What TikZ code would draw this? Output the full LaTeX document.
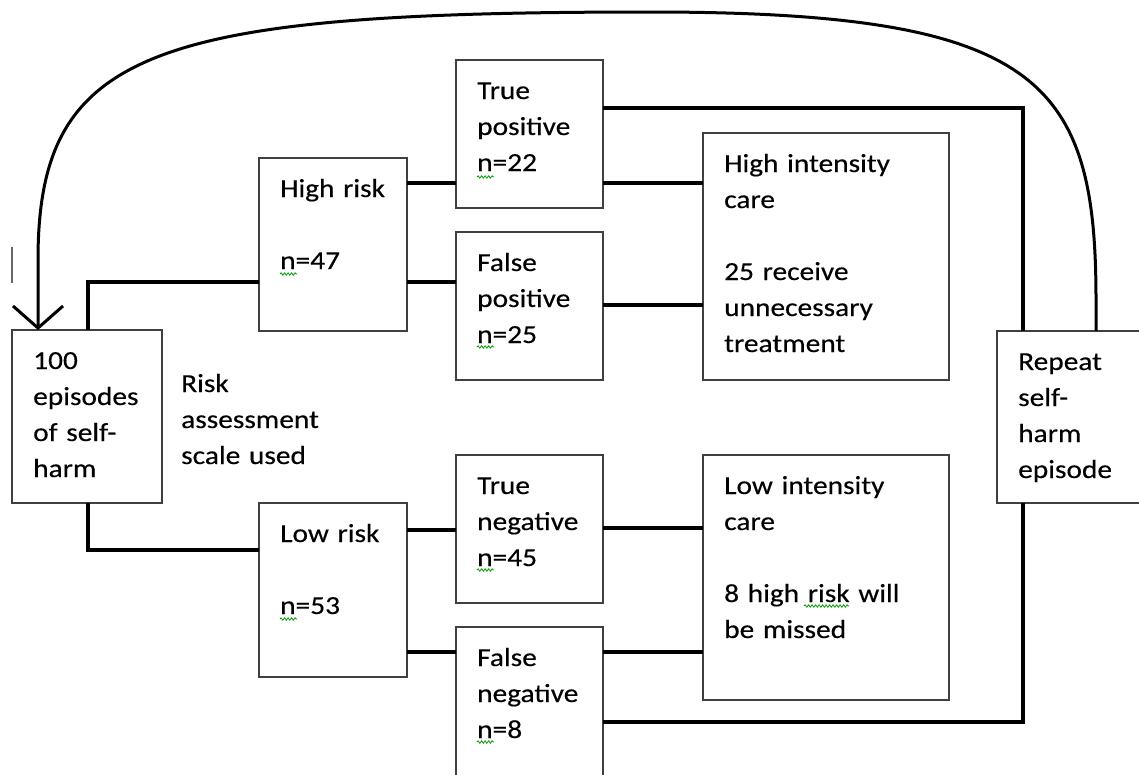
\documentclass[tikz,border=0pt]{standalone}
\usepackage{fontspec}
\setmainfont{Carlito}[FakeStretch=1.13,FakeBold=0.35]
\usetikzlibrary{arrows.meta,calc,positioning,decorations.pathmorphing}
\newdimen\padx
\newdimen\pady
\padx=21pt
\pady=39pt
\tikzstyle{box}=[
  draw=black!75,
  line width=2pt,
  rectangle,
  inner sep=0pt,
  outer sep=0pt,
  anchor=north west,
]
\tikzstyle{boxtext}=[
  font={\fontsize{26}{36}\selectfont},
  text width=230pt,
  align=left,
  inner sep=0pt,
  anchor=base west,
]
\tikzstyle{link}=[
  draw=black,
  line width=4.5pt,
]
\tikzstyle{loopback}=[
  draw=black,
  line width=3pt,
]
\tikzstyle{squiggle}=[
  draw=green!60!black,
  line width=0.8pt,
  decorate,
  decoration={snake, amplitude=1.2pt, segment length=3.5pt},
]
\tikzset{
  x=1pt, y=-1pt,
  >={Straight Barb[length=22pt,width=50pt]},
}
\begin{document}
\begin{tikzpicture}
  \useasboundingbox (0,0) rectangle (1139,774);
  \clip (0,0) rectangle (1139,774);
  %% boxes
  \node (start) [box, minimum width=150pt, minimum height=173pt] at (12,330) {};
  \node (high) [box, minimum width=148pt, minimum height=173pt] at (259,158) {};
  \node (low) [box, minimum width=148pt, minimum height=174pt] at (259,503) {};
  \node (tp) [box, minimum width=147pt, minimum height=148pt] at (456,60) {};
  \node (fp) [box, minimum width=147pt, minimum height=148pt] at (456,232) {};
  \node (tn) [box, minimum width=147pt, minimum height=148pt] at (456,455) {};
  \node (fn) [box, minimum width=147pt, minimum height=170pt] at (456,627) {};
  \node (hic) [box, minimum width=246pt, minimum height=247pt] at (703,133) {};
  \node (lic) [box, minimum width=246pt, minimum height=245pt] at (703,455) {};
  \node (rep) [box, minimum width=170pt, minimum height=172pt] at (997,331) {};
  %% texts
  \node (starttext) [boxtext] at ([xshift=\padx,yshift=-\pady]start.north west) {100\\episodes\\of self-\\harm};
  \node (scaletext) [boxtext] at (181,392) {Risk\\assessment\\scale used};
  \node (hightext) [boxtext] at ([xshift=\padx,yshift=-\pady]high.north west) {High risk\\[36pt]n=47};
  \node (lowtext) [boxtext] at ([xshift=\padx,yshift=-\pady]low.north west) {Low risk\\[36pt]n=53};
  \node (tptext) [boxtext] at ([xshift=\padx,yshift=-\pady]tp.north west) {True\\positive\\n=22};
  \node (fptext) [boxtext] at ([xshift=\padx,yshift=-\pady]fp.north west) {False\\positive\\n=25};
  \node (tntext) [boxtext] at ([xshift=\padx,yshift=-\pady]tn.north west) {True\\negative\\n=45};
  \node (fntext) [boxtext] at ([xshift=\padx,yshift=-\pady]fn.north west) {False\\negative\\n=8};
  \node (hictext) [boxtext] at ([xshift=\padx,yshift=-\pady]hic.north west) {High intensity\\care\\[36pt]25 receive\\unnecessary\\treatment};
  \node (lictext) [boxtext] at ([xshift=\padx,yshift=-\pady]lic.north west) {Low intensity\\care\\[36pt]8 high risk will\\be missed};
  \node (reptext) [boxtext] at ([xshift=\padx,yshift=-\pady]rep.north west) {Repeat\\self-\\harm\\episode};
  %% connectors
  \draw [link] (start.north -| 88,0) |- (high.west |- 0,282);
  \draw [link] (start.south -| 88,0) |- (low.west |- 0,550);
  \draw [link] (high.east |- 0,183) -- (tp.west |- 0,183);
  \draw [link] (high.east |- 0,282) -- (fp.west |- 0,282);
  \draw [link] (low.east |- 0,530) -- (tn.west |- 0,530);
  \draw [link] (low.east |- 0,652) -- (fn.west |- 0,652);
  \draw [link] (tp.east |- 0,183) -- (hic.west |- 0,183);
  \draw [link] (fp.east |- 0,305) -- (hic.west |- 0,305);
  \draw [link] (tn.east |- 0,528) -- (lic.west |- 0,528);
  \draw [link] (fn.east |- 0,652) -- (lic.west |- 0,652);
  \draw [link] (tp.east |- 0,108) -| (rep.north -| 1023,0);
  \draw [link] (fn.east |- 0,722) -| (rep.south -| 1023,0);
  %% repeat episode back to start
  \draw [loopback, ->] (rep.north -| 1096,0) -- (1096,300)
    .. controls (1096,80) and (1040,12) .. (650,12)
    .. controls (150,12) and (38,50) .. (38,260)
    -- (start.north -| 38,0);
  %% spell-check marks
  \draw [squiggle] (280,274) -- ++(17,0);
  \draw [squiggle] (280,619) -- ++(17,0);
  \draw [squiggle] (477,177) -- ++(17,0);
  \draw [squiggle] (477,347) -- ++(17,0);
  \draw [squiggle] (477,570) -- ++(17,0);
  \draw [squiggle] (477,742) -- ++(17,0);
  \draw [squiggle] (804,606) -- ++(45,0);
  \draw [black!60, line width=1.2pt] (12,247) -- (12,283);
\end{tikzpicture}
\end{document}
